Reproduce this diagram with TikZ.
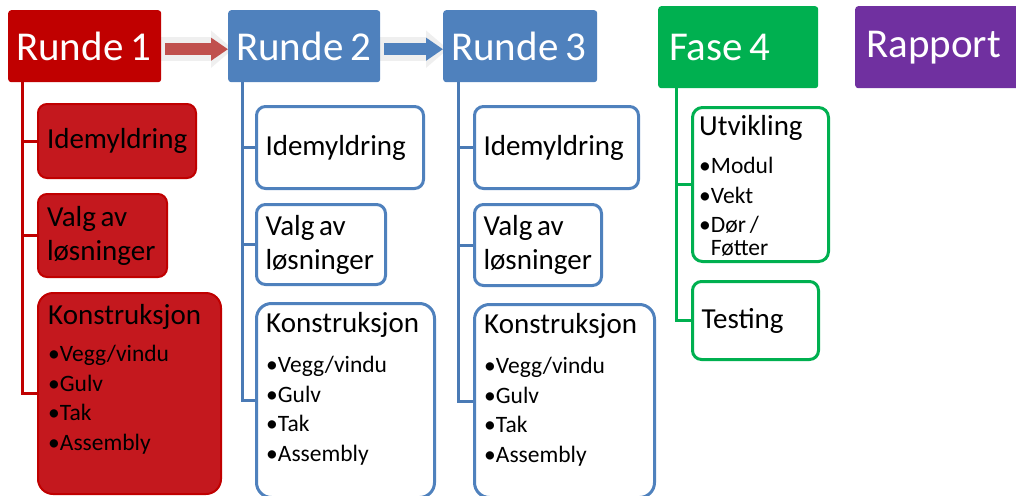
\documentclass[tikz,border=0pt]{standalone}
\usepackage{fontspec}
\setmainfont{Carlito}
\usetikzlibrary{arrows.meta, backgrounds}

\definecolor{rundered}{HTML}{C00000}
\definecolor{subred}{HTML}{C4181E}
\definecolor{arrowred}{HTML}{C0504D}
\definecolor{rundeblue}{HTML}{4F81BD}
\definecolor{treeblue}{HTML}{4A7AB5}
\definecolor{fasegreen}{HTML}{00B050}
\definecolor{rapportpurple}{HTML}{7030A0}
\definecolor{halogray}{HTML}{EFEFEF}

\newcommand{\headfont}{\fontsize{41}{48}\selectfont}
\newcommand{\subfont}{\fontsize{29}{34}\selectfont}
\newcommand{\itemfont}{\fontsize{23.5}{29.5}\selectfont}
\newcommand{\hsp}{\hspace{0.16em}}

\tikzset{
	head/.style = {anchor = north west, rounded corners = 3pt, inner xsep = 8pt, inner ysep = 0pt, text = white, font = \headfont, align = left},
	sub/.style = {anchor = north west, rounded corners = 9pt, inner xsep = 9pt, inner ysep = 0pt, font = \subfont, align = left},
	subred/.style = {sub, fill = subred, draw = rundered, line width = 2pt},
	subblue/.style = {sub, fill = white, draw = rundeblue, line width = 3pt},
	subgreen/.style = {sub, fill = white, draw = fasegreen, line width = 3pt},
	itemlist/.style = {anchor = north west, inner sep = 0pt, font = \itemfont, align = left},
	tree/.style = {line width = 3pt},
	halo/.style = {halogray, line width = 24pt, -{Triangle[length = 22pt, width = 36pt]}},
	flow/.style = {line width = 12pt, shorten <= 4pt, -{Triangle[length = 17pt, width = 22pt]}}
}

\begin{document}
\begin{tikzpicture}[x = 1pt, y = -1pt]

	\useasboundingbox (0, 0) rectangle (1016, 495);

	% Heads
	
	\node [head, fill = rundered, text width = 137pt, minimum height = 72pt] (r1) at (8, 10) {Runde\hsp 1};
	\node [head, fill = rundeblue, text width = 136pt, minimum height = 72pt] (r2) at (228, 10) {Runde\hsp 2};
	\node [head, fill = rundeblue, text width = 138pt, minimum height = 72pt] (r3) at (443, 10) {Runde\hsp 3};
	\node [head, fill = fasegreen, inner xsep = 11pt, text width = 138pt, minimum height = 82pt] (f4) at (658, 6) {Fase\hsp 4};
	\node [head, fill = rapportpurple, inner xsep = 11pt, text width = 143pt, minimum height = 82pt] (rap) at (855, 6) {Rapport};
	
	% Runde 1
	
	\node [subred, text width = 140pt, minimum height = 74pt] (r1a) at (37, 103) {Idemyldring};
	\node [subred, text width = 111pt, minimum height = 83pt] (r1b) at (37, 193) {Valg\hsp av\\løsninger};
	\node [subred, rounded corners = 15pt, minimum width = 183pt, minimum height = 201pt] (r1c) at (37, 292) {};
	\node [itemlist] (r1ct) at ([shift = {(11pt, -12pt)}] r1c.north west)
		{{\subfont Konstruksjon}\\[8pt] •Vegg/vindu\\ •Gulv\\ •Tak\\ •Assembly};
	
	% Runde 2
	
	\node [subblue, text width = 149pt, minimum height = 82pt] (r2a) at (255, 105) {Idemyldring};
	\node [subblue, text width = 111pt, minimum height = 80pt] (r2b) at (255, 203) {Valg\hsp av\\løsninger};
	\node [subblue, rounded corners = 15pt, minimum width = 178pt, minimum height = 194pt] (r2c) at (255, 302) {};
	\node [itemlist] (r2ct) at ([shift = {(11pt, -10pt)}] r2c.north west)
		{{\subfont Konstruksjon}\\[11pt] •Vegg/vindu\\ •Gulv\\ •Tak\\ •Assembly};
	
	% Runde 3
	
	\node [subblue, text width = 146pt, minimum height = 82pt] (r3a) at (473, 105) {Idemyldring};
	\node [subblue, text width = 109pt, minimum height = 81pt] (r3b) at (473, 203) {Valg\hsp av\\løsninger};
	\node [subblue, rounded corners = 15pt, minimum width = 180pt, minimum height = 193pt] (r3c) at (473, 303) {};
	\node [itemlist] (r3ct) at ([shift = {(11pt, -10pt)}] r3c.north west)
		{{\subfont Konstruksjon}\\[11pt] •Vegg/vindu\\ •Gulv\\ •Tak\\ •Assembly};
	
	% Fase 4
	
	\node [subgreen, rounded corners = 10pt, minimum width = 136pt, minimum height = 154pt] (f4a) at (691, 106) {};
	\node [itemlist] (f4at) at ([shift = {(8pt, -9pt)}] f4a.north west)
		{{\subfont Utvikling}\\[9pt] •Modul\\ •Vekt\\ •Dør\hsp /\\[-7pt] \hphantom{•}Føtter};
	\node [subgreen, text width = 108pt, minimum height = 78pt] (f4b) at (691, 280) {Testing};
	
	% Connectors
	
	\begin{scope}[on background layer]
		\draw [halo] ([yshift = -3pt] r1.east) -- ([xshift = 5pt, yshift = -3pt] r2.west);
		\draw [halo] ([yshift = -3pt] r2.east) -- ([xshift = 5pt, yshift = -3pt] r3.west);
		
		\foreach \c in {r1a, r1b, r1c}
			\draw [tree, rundered] ([xshift = 14pt] r1.south west) |- (\c.west);
		\foreach \c in {r2a, r2b, r2c}
			\draw [tree, treeblue] ([xshift = 14pt] r2.south west) |- (\c.west);
		\foreach \c in {r3a, r3b, r3c}
			\draw [tree, treeblue] ([xshift = 15pt] r3.south west) |- (\c.west);
		\foreach \c in {f4a, f4b}
			\draw [tree, fasegreen] ([xshift = 18pt] f4.south west) |- (\c.west);
	\end{scope}
	
	\draw [flow, arrowred] ([yshift = -3pt] r1.east) -- ([yshift = -3pt] r2.west);
	\draw [flow, rundeblue] ([yshift = -3pt] r2.east) -- ([yshift = -3pt] r3.west);

\end{tikzpicture}
\end{document}
